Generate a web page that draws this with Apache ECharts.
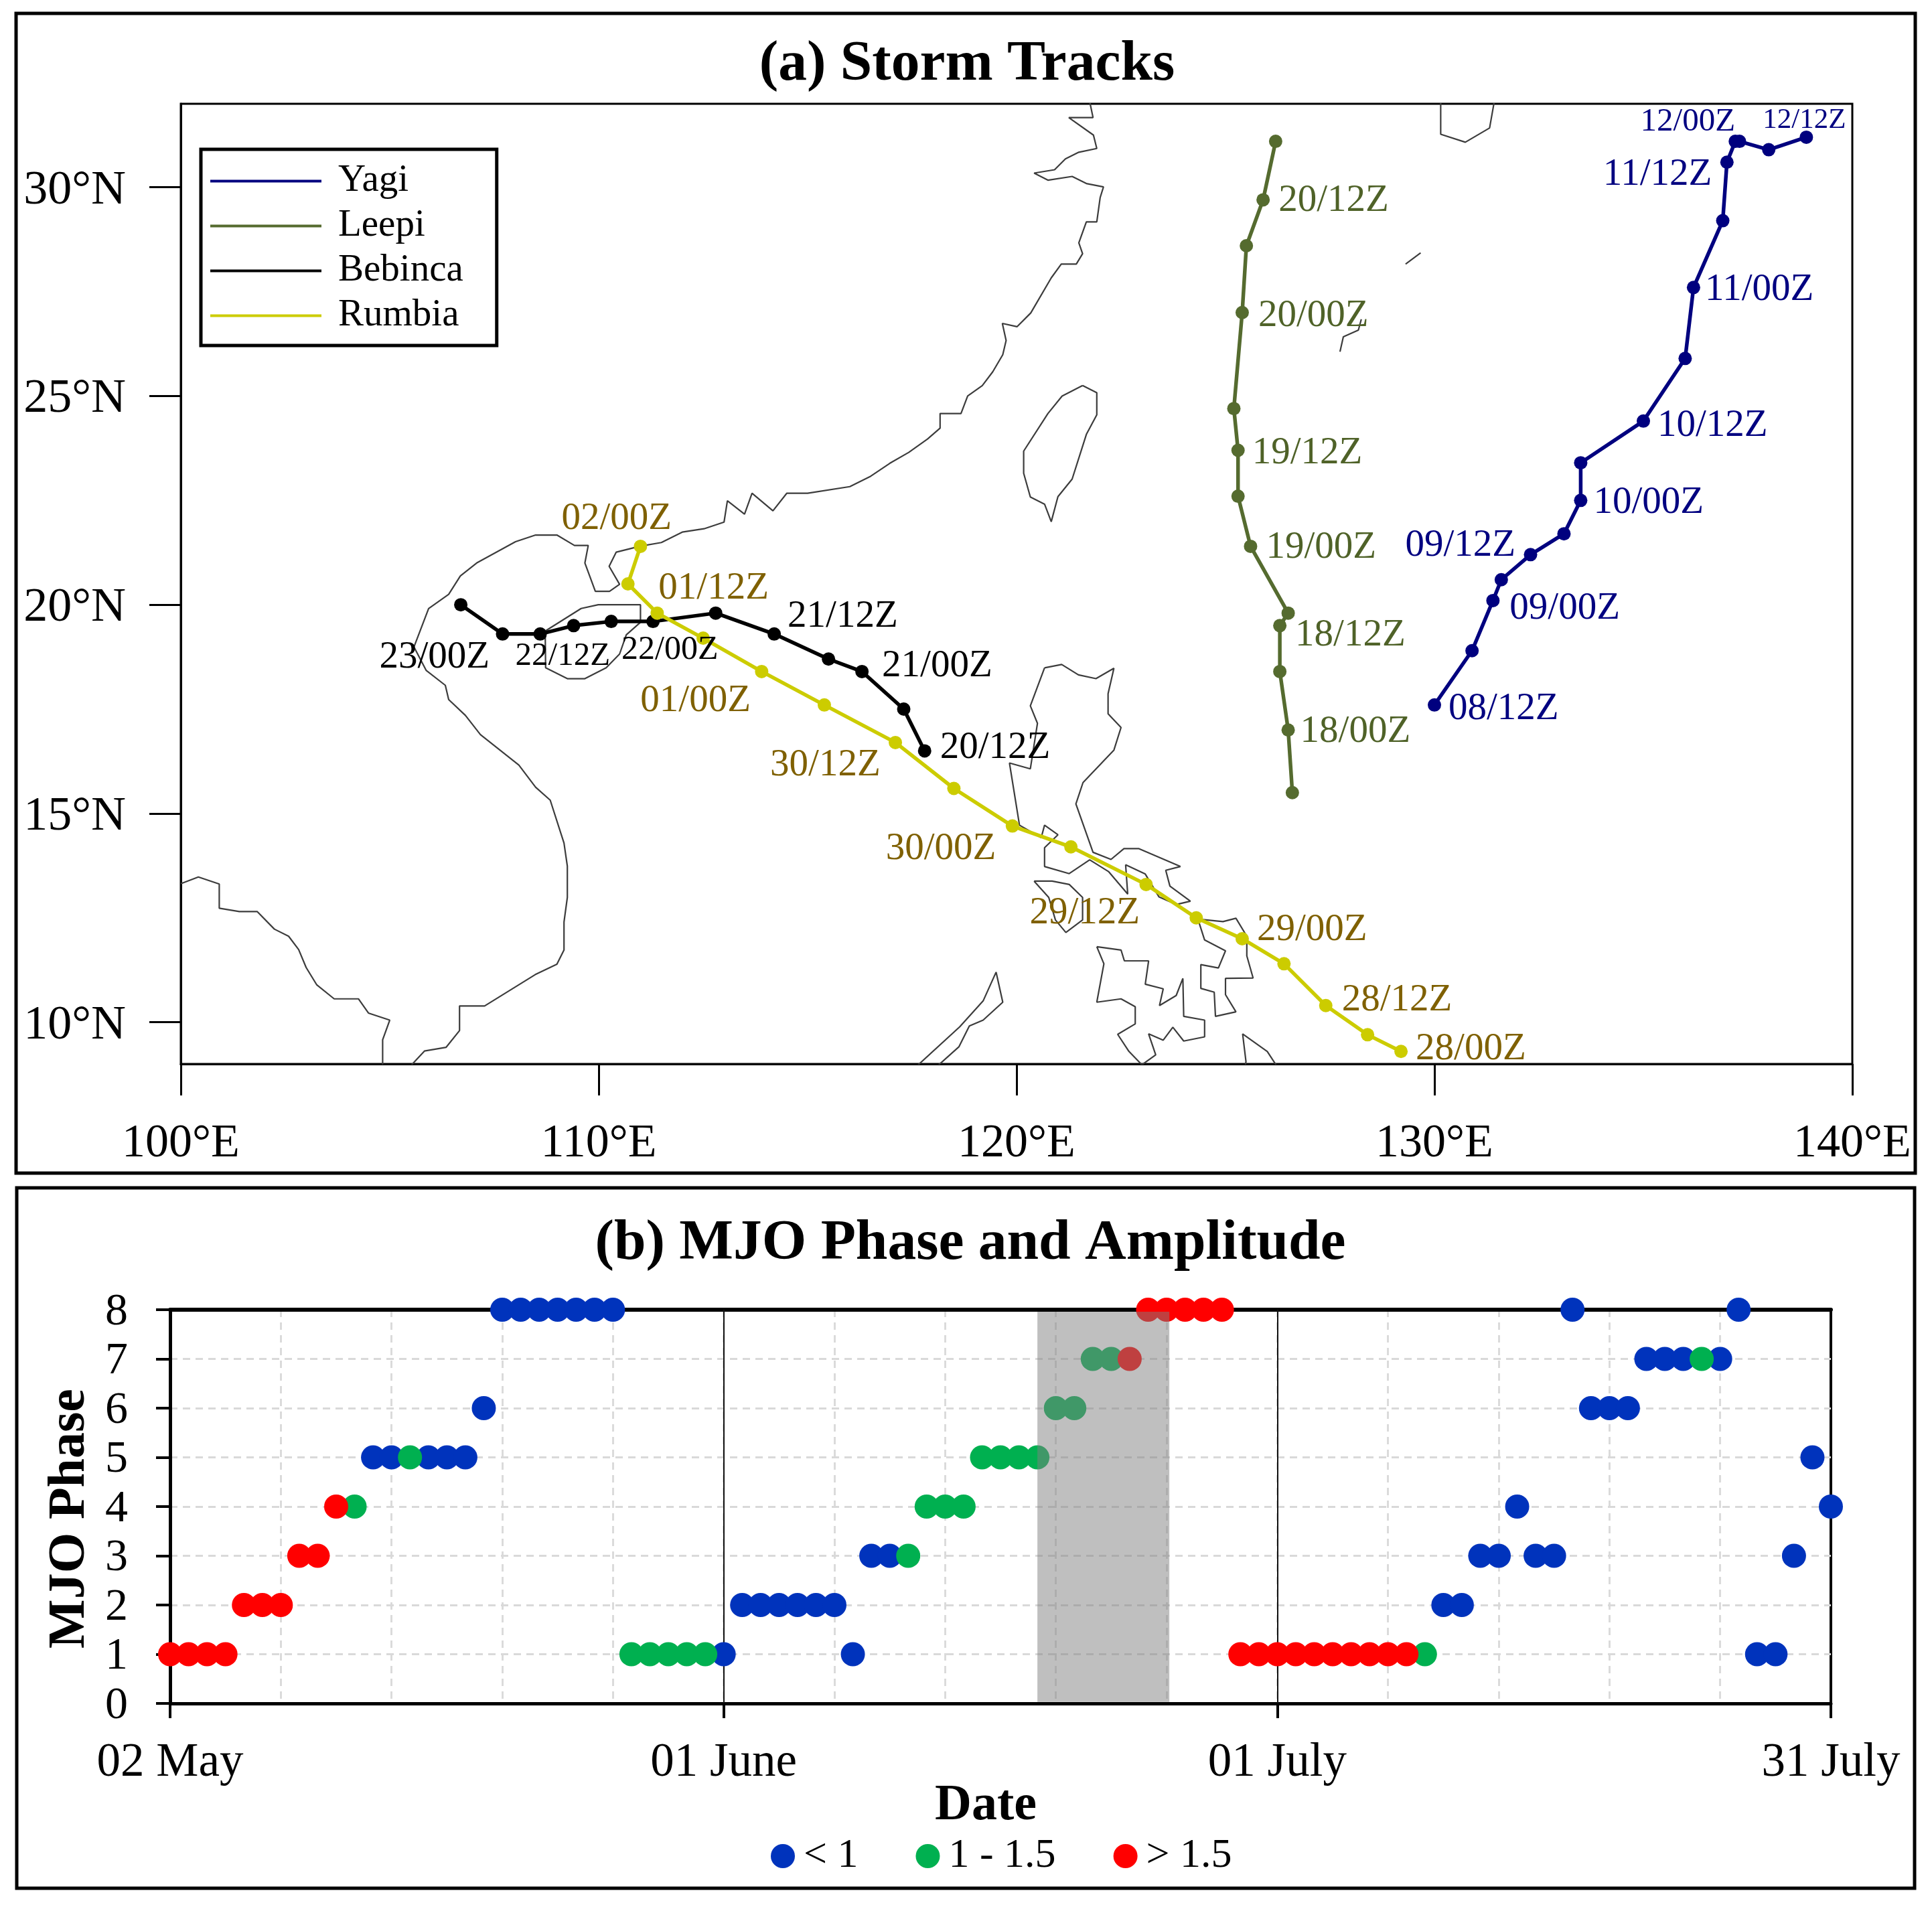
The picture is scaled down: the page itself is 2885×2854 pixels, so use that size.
<!DOCTYPE html>
<html>
<head>
<meta charset="utf-8">
<style>html,body{margin:0;padding:0;background:#fff}#c{width:2885px;height:2854px}</style>
<script src="https://cdn.jsdelivr.net/npm/echarts@6/dist/echarts.min.js"></script>
</head>
<body>
<div id="c"></div>
<script>
// ---------- Track data (longitude, latitude, time stamp of labelled fixes) ----------
const yagiLon = [130.0,130.9,131.4,131.6,132.3,133.1,133.5,133.5,135.0,136.0,136.2,136.9,137.0,137.2,137.3,138.0,138.9];
const yagiLat = [17.6,18.9,20.1,20.6,21.2,21.7,22.5,23.4,24.4,25.9,27.6,29.2,30.6,31.1,31.1,30.9,31.2];
const yagiStamp = ['08/12Z','','09/00Z','','09/12Z','','10/00Z','','10/12Z','','11/00Z','','11/12Z','','12/00Z','','12/12Z'];

const leepiLon = [126.6,126.5,126.3,126.3,126.5,125.6,125.3,125.3,125.2,125.4,125.5,125.9,126.2];
const leepiLat = [15.5,17.0,18.4,19.5,19.8,21.4,22.6,23.7,24.7,27.0,28.6,29.7,31.1];
const leepiStamp = ['','18/00Z','','18/12Z','','19/00Z','','19/12Z','','20/00Z','','20/12Z',''];

const bebincaLon = [117.8,117.3,116.3,115.5,114.2,112.8,111.3,110.3,109.4,108.6,107.7,106.7];
const bebincaLat = [16.5,17.5,18.4,18.7,19.3,19.8,19.6,19.6,19.5,19.3,19.3,20.0];
const bebincaStamp = ['20/12Z','','21/00Z','','21/12Z','','22/00Z','','22/12Z','','23/00Z',''];

const rumbiaLon = [129.2,128.4,127.4,126.4,125.4,124.3,123.1,121.3,119.9,118.5,117.1,115.4,113.9,112.5,111.4,110.7,111.0];
const rumbiaLat = [9.3,9.7,10.4,11.4,12.0,12.5,13.3,14.2,14.7,15.6,16.7,17.6,18.4,19.2,19.8,20.5,21.4];
const rumbiaStamp = ['28/00Z','','28/12Z','','29/00Z','','29/12Z','','30/00Z','','30/12Z','','01/00Z','','01/12Z','','02/00Z'];

// ---------- Coastlines, as [lon, lat] ----------
const coastMainland = [[105.45,8.9],[105.83,9.31],[106.35,9.40],[106.67,9.80],[106.67,10.39],[107.27,10.39],[108.48,11.14],[109.0,11.39],[109.17,11.73],[109.17,12.40],[109.25,12.99],[109.25,13.74],[109.17,14.29],[108.84,15.32],[108.49,15.63],[108.09,16.16],[107.17,16.89],[106.81,17.35],[106.41,17.73],[106.33,18.07],[105.87,18.43],[105.58,18.99],[105.93,19.91],[106.41,20.25],[106.69,20.69],[107.08,21.0],[108.01,21.51],[108.49,21.67],[109.0,21.67],[109.42,21.42],[109.75,21.42],[109.67,21.0],[109.92,20.32],[110.26,20.32],[110.50,20.49],[110.25,20.92],[110.42,21.26],[110.98,21.40],[111.50,21.49],[112.0,21.74],[112.52,21.82],[113.0,21.98],[113.08,22.49],[113.49,22.17],[113.67,22.67],[114.17,22.25],[114.50,22.67],[115.0,22.67],[116.01,22.83],[116.51,23.08],[116.97,23.39],[117.42,23.65],[117.87,23.97],[118.17,24.23],[118.17,24.58],[118.67,24.58],[118.83,25.0],[119.18,25.25],[119.43,25.58],[119.67,25.99],[119.75,26.33],[119.66,26.74],[120.01,26.66],[120.34,26.99],[120.83,27.83],[121.07,28.16],[121.43,28.16],[121.58,28.41],[121.49,28.67],[121.67,29.17],[121.92,29.17],[122.0,29.75],[122.08,30.01],[121.67,30.09],[121.33,30.26],[120.75,30.17],[120.42,30.34],[120.91,30.42],[121.17,30.68],[121.49,30.84],[121.92,30.93],[121.84,31.25],[121.25,31.67],[121.83,31.67],[121.74,32.1]];
const coastGulfThailand = [[100,13.32],[100.42,13.48],[100.92,13.31],[100.92,12.73],[101.40,12.65],[101.83,12.65],[102.24,12.23],[102.58,12.06],[102.82,11.74],[103.0,11.31],[103.25,10.90],[103.67,10.56],[104.25,10.56],[104.49,10.22],[105.0,10.05],[104.83,9.58],[104.83,8.9]];
const coastHainan = [[108.72,19.37],[109.58,19.91],[109.99,20.0],[111.0,20.0],[111.0,19.58],[110.66,19.28],[110.50,18.82],[110.18,18.49],[109.67,18.23],[109.25,18.23],[108.73,18.49],[108.72,19.37]];
const coastTaiwan = [[121.58,25.25],[121.92,25.08],[121.92,24.55],[121.67,24.08],[121.33,23.01],[120.99,22.59],[120.83,21.99],[120.67,22.41],[120.33,22.58],[120.17,23.15],[120.17,23.68],[120.75,24.58],[121.09,25.0],[121.58,25.25]];
const coastKyushu = [[130.15,32.1],[130.15,31.27],[130.74,31.08],[131.32,31.42],[131.44,32.1]];
const coastIsletA = [[129.31,28.16],[129.67,28.43]];
const coastIsletB = [[127.74,26.06],[127.82,26.42],[128.18,26.58],[128.25,26.84]];
const coastLuzon = [[120.67,18.49],[121.08,18.57],[121.48,18.32],[121.90,18.23],[122.33,18.48],[122.19,17.87],[122.19,17.39],[122.50,17.06],[122.33,16.52],[121.59,15.74],[121.42,15.23],[121.83,14.07],[122.26,13.90],[122.57,14.16],[122.92,14.16],[123.92,13.73],[123.57,13.64],[123.67,13.26],[124.16,12.90],[123.82,12.82],[123.41,13.0],[123.08,13.55],[122.61,13.77],[122.66,13.07],[122.20,13.61],[121.75,13.89],[121.26,13.56],[120.67,13.73],[120.67,14.18],[120.99,14.49],[120.67,14.72],[120.59,14.42],[120.07,14.72],[119.83,16.21],[120.33,16.07],[120.50,17.16],[120.33,17.58],[120.67,18.49]];
const coastMindoro = [[120.42,13.38],[120.85,13.38],[121.26,13.30],[121.58,12.99],[121.58,12.45],[121.18,12.15],[120.93,12.45],[120.77,12.99],[120.42,13.38]];
const coastSamar = [[124.34,12.47],[124.94,12.41],[125.25,12.49],[125.51,12.06],[125.51,11.59],[125.66,11.06],[125.0,11.05],[125.0,10.66],[125.25,10.25],[124.76,10.14],[124.73,10.72],[124.41,10.81],[124.41,11.38],[124.83,11.30],[125.0,11.71],[124.50,11.97],[124.34,12.47]];
const coastVisayas = [[121.92,11.81],[122.50,11.73],[122.58,11.47],[123.16,11.47],[123.08,10.91],[123.51,10.80],[123.42,10.40],[123.82,10.64],[123.98,11.05],[124.0,10.14],[124.50,10.05],[124.50,9.65],[124.0,9.55],[123.74,9.88],[123.51,9.57],[123.16,9.72],[123.33,9.22],[123.0,8.98],[122.69,9.30],[122.42,9.71],[122.84,9.96],[122.84,10.37],[122.50,10.56],[121.92,10.48],[122.09,11.40],[121.92,11.81]];
const coastMindanao = [[125.47,8.9],[125.49,9.06],[125.41,9.72],[126.0,9.30],[126.26,8.9]];
const coastPalawan = [[117.56,8.9],[118.64,9.89],[119.20,10.51],[119.51,11.20],[119.67,10.48],[119.20,10.05],[118.87,9.91],[118.62,9.41],[118.05,8.9]];
const coastlines = [coastMainland,coastGulfThailand,coastHainan,coastTaiwan,coastKyushu,coastIsletA,coastIsletB,coastLuzon,coastMindoro,coastSamar,coastVisayas,coastMindanao,coastPalawan];

// ---------- MJO data: one entry per day from 02 May (index 0) to 31 July (index 90) ----------
const mjoPhase = [1,1,1,1,2,2,2,3,3,4,4,5,5,5,5,5,5,6,8,8,8,8,8,8,8,1,1,1,1,1,1,2,2,2,2,2,2,1,3,3,3,4,4,4,5,5,5,5,6,6,7,7,7,8,8,8,8,8,1,1,1,1,1,1,1,1,1,1,1,2,2,3,3,4,3,3,8,6,6,6,7,7,7,7,7,8,1,1,3,5,4];
// amplitude class: 0 "< 1", 1 "1 - 1.5", 2 "> 1.5"
const mjoClass = [2,2,2,2,2,2,2,2,2,2,1,0,0,1,0,0,0,0,0,0,0,0,0,0,0,1,1,1,1,1,0,0,0,0,0,0,0,0,0,0,1,1,1,1,1,1,1,1,1,1,1,1,2,2,2,2,2,2,2,2,2,2,2,2,2,2,2,2,1,0,0,0,0,0,0,0,0,0,0,0,0,0,0,1,0,0,0,0,0,0,0];
const classNames = ['< 1','1 - 1.5','> 1.5'];
const dateTicks = [0,30,60,90];
const dateLabels = ['02 May','01 June','01 July','31 July'];
const shadeDays = [47,54.15];
const latTicks = [10,15,20,25,30];

// ---------- Styling ----------
const SERIF = '"Liberation Serif","Times New Roman",serif';
const classColors = ['#0033BC','#00B050','#FF0000'];
const labelLayout = {
  Yagi:{'08/12Z':[21,6],'09/00Z':[25,12],'09/12Z':[-187,-13],'10/00Z':[19,4],'10/12Z':[21,7],'11/00Z':[17,4],'11/12Z':[-185,19],'12/00Z':[-148,-29,49],'12/12Z':[-65,-25,43]},
  Leepi:{'18/00Z':[18,3],'18/12Z':[23,15],'19/00Z':[23,2],'19/12Z':[21,5],'20/00Z':[24,5],'20/12Z':[23,2]},
  Bebinca:{'20/12Z':[23,-4],'21/00Z':[30,-8],'21/12Z':[20,-26],'22/00Z':[-47,43,50],'22/12Z':[-87,46,49],'23/00Z':[-184,35]},
  Rumbia:{'28/00Z':[22,-3],'28/12Z':[24,-8],'29/00Z':[22,-13],'29/12Z':[-174,43],'30/00Z':[-189,34],'30/12Z':[-187,34],'01/00Z':[-181,44],'01/12Z':[2,-37],'02/00Z':[-118,-41]}
};

function track(name, lons, lats, stamps, color, textColor){
  return {
    name, type:'line', xAxisIndex:0, yAxisIndex:0, z:5, clip:false, animation:false, silent:true,
    symbol:'circle', symbolSize:20, showSymbol:true, showAllSymbol:true,
    lineStyle:{color, width:5.5}, itemStyle:{color},
    data: lons.map((lon,i)=>{
      const item = {value:[lon,lats[i]]};
      const off = labelLayout[name][stamps[i]];
      if(stamps[i] && off){
        item.label = {show:true, formatter:stamps[i], position:'inside', align:'left', verticalAlign:'middle',
          offset:[off[0],off[1]], color:textColor, fontFamily:SERIF, fontSize:off[2]||57, textBorderWidth:0};
      }
      return item;
    })
  };
}

const coastSeries = coastlines.map((c,i)=>({
  name:'coast'+i, type:'line', xAxisIndex:0, yAxisIndex:0, z:2, animation:false, silent:true,
  symbol:'none', lineStyle:{color:'#3c3c3c', width:2.2}, data:c
}));

const mjoSeries = classNames.map((n,k)=>({
  name:n, type:'scatter', xAxisIndex:1, yAxisIndex:1, clip:false, animation:false, silent:true,
  z:3+k, symbol:'circle', symbolSize:36, itemStyle:{color:classColors[k],opacity:1},
  data: mjoPhase.map((p,d)=>mjoClass[d]===k?[d,p]:null).filter(Boolean)
}));

const overlay = {
  name:'overlay', type:'scatter', xAxisIndex:1, yAxisIndex:1, z:1, data:[], silent:true, animation:false,
  markLine:{silent:true, symbol:'none', z:1, animation:false, label:{show:false},
    lineStyle:{color:'#111', width:2, type:'solid'}, data:[{xAxis:30},{xAxis:60}]}
};
const shade = {
  name:'shade', type:'scatter', xAxisIndex:1, yAxisIndex:1, z:10, data:[], silent:true, animation:false,
  markArea:{silent:true, z:10, animation:false, itemStyle:{color:'rgba(128,128,128,0.5)'}, label:{show:false},
    data:[[{xAxis:shadeDays[0],yAxis:0.03},{xAxis:shadeDays[1],yAxis:7.96}]]}
};

const axisLineBlack = w=>({show:true,onZero:false,lineStyle:{color:'#000',width:w}});
const dashGrid = {color:'#d9d9d9',width:2.8,type:[11,8]};

const option = {
  backgroundColor:'#fff',
  animation:false,
  textStyle:{fontFamily:SERIF},
  title:[
    {text:'(a) Storm Tracks', left:1439, top:92, textAlign:'center', textVerticalAlign:'middle',
      textStyle:{fontFamily:SERIF,fontWeight:'bold',fontSize:85.5,color:'#000'}},
    {text:'(b) MJO Phase and Amplitude', left:1444, top:1853, textAlign:'center', textVerticalAlign:'middle',
      textStyle:{fontFamily:SERIF,fontWeight:'bold',fontSize:85.5,color:'#000'}}
  ],
  grid:[
    {left:270, top:155, width:2496, height:1434, show:true, borderColor:'#000', borderWidth:3, backgroundColor:'transparent'},
    {left:254, top:1956, width:2480, height:588, show:true, borderColor:'#000', borderWidth:4, backgroundColor:'transparent'}
  ],
  xAxis:[
    {type:'value', gridIndex:0, min:100, max:140, interval:10, splitLine:{show:false},
      axisLine:axisLineBlack(3),
      axisTick:{show:true,length:47,lineStyle:{color:'#000',width:3}},
      axisLabel:{color:'#000',fontFamily:SERIF,fontSize:70,margin:85,showMinLabel:true,showMaxLabel:true,
        formatter:v=>v+'°E'}},
    {type:'value', gridIndex:1, min:0, max:90, interval:30,
      name:'Date', nameLocation:'middle', nameGap:115, nameMoveOverlap:false,
      nameTextStyle:{color:'#000',fontFamily:SERIF,fontWeight:'bold',fontSize:76,padding:[0,44,0,0]},
      splitLine:{show:false},
      axisLine:axisLineBlack(5),
      axisTick:{show:true,length:22,lineStyle:{color:'#000',width:4}},
      axisLabel:{show:true,color:'#000',fontFamily:SERIF,fontSize:71,margin:54,
        formatter:v=>dateLabels[dateTicks.indexOf(v)]}},
    {type:'value', gridIndex:1, position:'top', min:0, max:90, interval:6,
      splitLine:{show:true,showMinLine:false,showMaxLine:false,lineStyle:dashGrid},
      axisTick:{show:false}, axisLabel:{show:false}, axisLine:axisLineBlack(6)}
  ],
  yAxis:[
    {type:'value', gridIndex:0, min:9, max:32, splitLine:{show:false},
      axisLine:axisLineBlack(3),
      axisTick:{show:true,length:47,customValues:latTicks,lineStyle:{color:'#000',width:3}},
      axisLabel:{color:'#000',fontFamily:SERIF,fontSize:72,margin:82,customValues:latTicks,verticalAlign:'top',lineHeight:10,formatter:v=>v+'°N'}},
    {type:'value', gridIndex:1, min:0, max:8, interval:1,
      name:'MJO Phase', nameLocation:'middle', nameGap:110, nameRotate:90,
      nameTextStyle:{color:'#000',fontFamily:SERIF,fontWeight:'bold',fontSize:78,padding:[0,36,0,0]},
      splitLine:{show:true,showMinLine:false,showMaxLine:false,lineStyle:dashGrid},
      axisLine:axisLineBlack(5),
      axisTick:{show:true,length:21,lineStyle:{color:'#000',width:4}},
      axisLabel:{color:'#000',fontFamily:SERIF,fontSize:68,margin:63,verticalAlign:'top',lineHeight:8}}
  ],
  legend:[
    {show:true, orient:'vertical', left:300, top:223, padding:[19,50,16,14], itemGap:10,
      data:['Yagi','Leepi','Bebinca','Rumbia'], icon:'rect', itemWidth:166, itemHeight:4,
      backgroundColor:'#fff', borderColor:'#000', borderWidth:5, selectedMode:false, z:20,
      textStyle:{color:'#000',fontFamily:SERIF,fontSize:57,lineHeight:56,padding:[-18,0,0,20]}},
    {show:true, orient:'horizontal', left:1151, top:2741, padding:0, itemGap:86,
      data:classNames, icon:'circle', itemWidth:36, itemHeight:36, selectedMode:false,
      textStyle:{color:'#000',fontFamily:SERIF,fontSize:62,padding:[0,0,0,8]}}
  ],
  graphic:[
    {type:'rect', silent:true, z:0, shape:{x:24,y:20,width:2836,height:1732}, style:{fill:'none',stroke:'#000',lineWidth:5}},
    {type:'rect', silent:true, z:0, shape:{x:25,y:1774,width:2834,height:1046}, style:{fill:'none',stroke:'#000',lineWidth:5}}
  ],
  series:[
    ...coastSeries,
    track('Yagi',yagiLon,yagiLat,yagiStamp,'#00007F','#000080'),
    track('Leepi',leepiLon,leepiLat,leepiStamp,'#556B2F','#4F6228'),
    track('Bebinca',bebincaLon,bebincaLat,bebincaStamp,'#000000','#000000'),
    track('Rumbia',rumbiaLon,rumbiaLat,rumbiaStamp,'#CCCC00','#7F6000'),
    overlay,
    ...mjoSeries,
    shade
  ]
};
const chart = echarts.init(document.getElementById('c'), null, {renderer:'canvas', width:2885, height:2854});
chart.setOption(option);
</script>
</body>
</html>
